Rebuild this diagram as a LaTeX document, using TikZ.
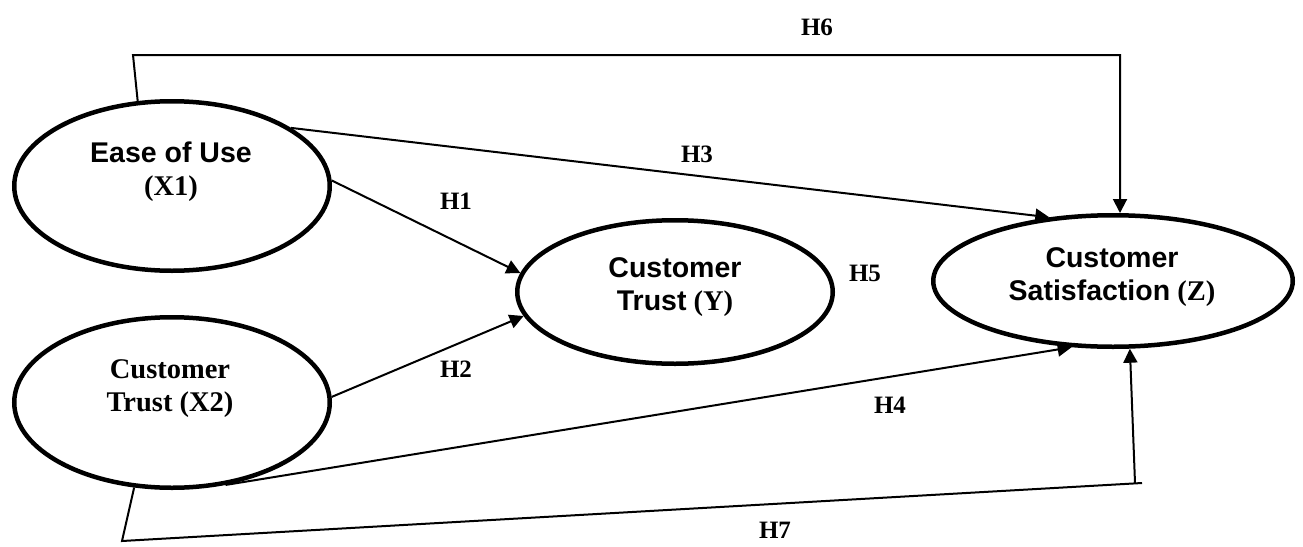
\documentclass[tikz,border=0pt]{standalone}
\usepackage{fontspec}
\setmainfont{Liberation Serif}
\setsansfont{Liberation Sans}
\usetikzlibrary{arrows.meta,shapes.geometric}
\begin{document}
\begin{tikzpicture}[x=1pt,y=-1pt,
  latent/.style={ellipse, draw, line width=4.5pt, inner sep=0pt},
  conn/.style={line width=2pt},
  arr/.style={conn, -{Triangle[length=14pt,width=14pt]}},
  hyp/.style={font=\fontsize{25}{30}\selectfont\bfseries, inner sep=0pt},
  lbl/.style={align=center, inner sep=0pt, font=\fontsize{28.5}{33}\selectfont\bfseries}]
\useasboundingbox (0,0) rectangle (1303,546);

% latent variables
\node[latent, minimum width=315.5pt, minimum height=169.5pt] (X1) at (172,186) {};
\node[latent, minimum width=315.5pt, minimum height=170.5pt] (X2) at (172,402.5) {};
\node[latent, minimum width=315.5pt, minimum height=143.5pt] (Y) at (675,292) {};
\node[latent, minimum width=359.5pt, minimum height=131.5pt] (Z) at (1113,281) {};

\node[lbl] (X1t) at (171,172) {{\sffamily Ease of Use}\\(X1)};
\node[lbl] (X2t) at (170,389) {Customer\\Trust (X2)};
\node[lbl] (Yt) at (675,287) {{\sffamily Customer}\\{\sffamily Trust} (Y)};
\node[lbl] (Zt) at (1112,277) {{\sffamily Customer}\\{\sffamily Satisfaction} (Z)};

% helper points
\coordinate (h6a) at (133,55);
\coordinate (h6b) at (1120,55);
\coordinate (h7a) at (122,541);
\coordinate (h7b) at (1142,483);
\coordinate (h7c) at (1135,483);

% connectors
\draw[arr] (X1.112) -- (h6a) -- (h6b) -- (h6b |- Z.north);
\draw[arr] (X1.26) -- (Z.135);
\draw[arr] (X1.2) -- (Y.173);
\draw[arr] (X2.2) -- (Y.189);
\draw[arr] (X2.-57) -- (Z.238);
\draw[conn] (X2.246) -- (h7a) -- (h7b);
\draw[arr] (h7c) -- (Z.-76);

% hypothesis labels
\node[hyp] (H6) at (817,27) {H6};
\node[hyp] (H3) at (697,154) {H3};
\node[hyp] (H1) at (456,201) {H1};
\node[hyp] (H5) at (865,273) {H5};
\node[hyp] (H2) at (456,369) {H2};
\node[hyp] (H4) at (890,405) {H4};
\node[hyp] (H7) at (775,530) {H7};
\end{tikzpicture}
\end{document}
